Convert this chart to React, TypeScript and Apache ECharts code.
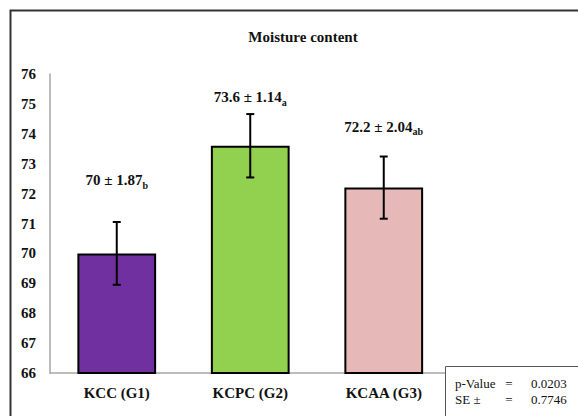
import React, { useEffect, useRef } from "react";
import * as echarts from "echarts";

// Moisture content per group: mean, error-bar half length, stated SD and significance letter
const categories = ["KCC (G1)", "KCPC (G2)", "KCAA (G3)"];
const means = [70, 73.6, 72.2];
const errors = [1.05, 1.06, 1.04];
const sds = ["1.87", "1.14", "2.04"];
const letters = ["b", "a", "ab"];
const barColors = ["#7030A0", "#92D050", "#E6B9B8"];
// vertical anchor (in axis units) of each mean ± SD annotation
const labelAnchors = [72.45, 75.23, 74.23];
const yTicks = { min: 66, max: 76, interval: 1 };
const stats = [
  { name: "p-Value", value: "0.0203" },
  { name: "SE \u00b1", value: "0.7746" },
];

const SERIF = "Liberation Serif";

export default function App() {
  const ref = useRef<HTMLDivElement>(null);

  useEffect(() => {
    if (!ref.current) return;
    const chart = echarts.init(ref.current, null, { renderer: "svg" });

    const errorData = means.map((m, i) => [i, m, errors[i], labelAnchors[i]]);

    const option: any = {
      animation: false,
      backgroundColor: "#ffffff",
      title: {
        text: "Moisture content",
        left: 298,
        top: 24,
        textAlign: "center",
        textStyle: { fontFamily: SERIF, fontWeight: "bold", fontSize: 15, color: "#111" },
      },
      grid: { left: 50, right: 127.5, top: 74, bottom: 43, containLabel: false },
      xAxis: {
        type: "category",
        data: categories,
        axisLine: { lineStyle: { color: "#A6A6A6", width: 1.5 } },
        axisTick: { show: false },
        axisLabel: {
          margin: 12,
          fontFamily: SERIF,
          fontWeight: "bold",
          fontSize: 15,
          color: "#111",
        },
      },
      yAxis: {
        type: "value",
        min: yTicks.min,
        max: yTicks.max,
        interval: yTicks.interval,
        axisLine: { show: true, lineStyle: { color: "#A6A6A6", width: 1.5 } },
        axisTick: { show: false },
        splitLine: { show: false },
        axisLabel: {
          margin: 14,
          fontFamily: SERIF,
          fontWeight: "bold",
          fontSize: 15,
          color: "#111",
        },
      },
      series: [
        {
          type: "bar",
          barWidth: "59%",
          data: means.map((m, i) => ({
            value: m,
            itemStyle: { color: barColors[i], borderColor: "#000", borderWidth: 2 },
          })),
        },
        {
          type: "custom",
          data: errorData,
          z: 5,
          renderItem: (params: any, api: any) => {
            const x = api.value(0);
            const v = api.value(1);
            const e = api.value(2);
            const ly = api.value(3);
            const i = params.dataIndex;
            const top = api.coord([x, v + e]);
            const bot = api.coord([x, v - e]);
            const lab = api.coord([x, ly]);
            const cap = 4;
            const ls = { stroke: "#000", lineWidth: 2 };
            return {
              type: "group",
              children: [
                { type: "line", shape: { x1: top[0], y1: top[1], x2: bot[0], y2: bot[1] }, style: ls },
                { type: "line", shape: { x1: top[0] - cap, y1: top[1], x2: top[0] + cap, y2: top[1] }, style: ls },
                { type: "line", shape: { x1: bot[0] - cap, y1: bot[1], x2: bot[0] + cap, y2: bot[1] }, style: ls },
                {
                  type: "text",
                  x: lab[0],
                  y: lab[1],
                  style: {
                    text: `{m|${means[i]} \u00b1 ${sds[i]}}{s|${letters[i]}}`,
                    align: "center",
                    verticalAlign: "middle",
                    rich: {
                      m: { fontFamily: SERIF, fontWeight: "bold", fontSize: 15, lineHeight: 20, fill: "#111" },
                      s: {
                        fontFamily: SERIF,
                        fontWeight: "bold",
                        fontSize: 10,
                        lineHeight: 10,
                        verticalAlign: "bottom",
                        fill: "#111",
                      },
                    },
                  },
                },
              ],
            };
          },
        },
      ],
      graphic: [
        {
          type: "rect",
          z: 100,
          silent: true,
          shape: { x: 10.5, y: 10.5, width: 700, height: 500 },
          style: { fill: "none", stroke: "#333", lineWidth: 2 },
        },
        {
          type: "rect",
          z: 100,
          silent: true,
          shape: { x: 445.5, y: 366.5, width: 200, height: 100 },
          style: { fill: "#fff", stroke: "#555", lineWidth: 1 },
        },
        ...stats.flatMap((s, i) => [
          {
            type: "text",
            z: 101,
            x: 455,
            y: 383 + i * 16,
            style: { text: s.name, fontFamily: SERIF, fontSize: 13, fill: "#111", verticalAlign: "middle" },
          },
          {
            type: "text",
            z: 101,
            x: 509,
            y: 383 + i * 16,
            style: { text: "=", fontFamily: SERIF, fontSize: 13, fill: "#111", align: "center", verticalAlign: "middle" },
          },
          {
            type: "text",
            z: 101,
            x: 531,
            y: 383 + i * 16,
            style: { text: s.value, fontFamily: SERIF, fontSize: 13, fill: "#111", verticalAlign: "middle" },
          },
        ]),
      ],
    };

    chart.setOption(option);
    return () => chart.dispose();
  }, []);

  return (
    <div
      ref={ref}
      style={{ position: "fixed", left: 0, top: 0, width: 578, height: 416, background: "#fff" }}
    />
  );
}
